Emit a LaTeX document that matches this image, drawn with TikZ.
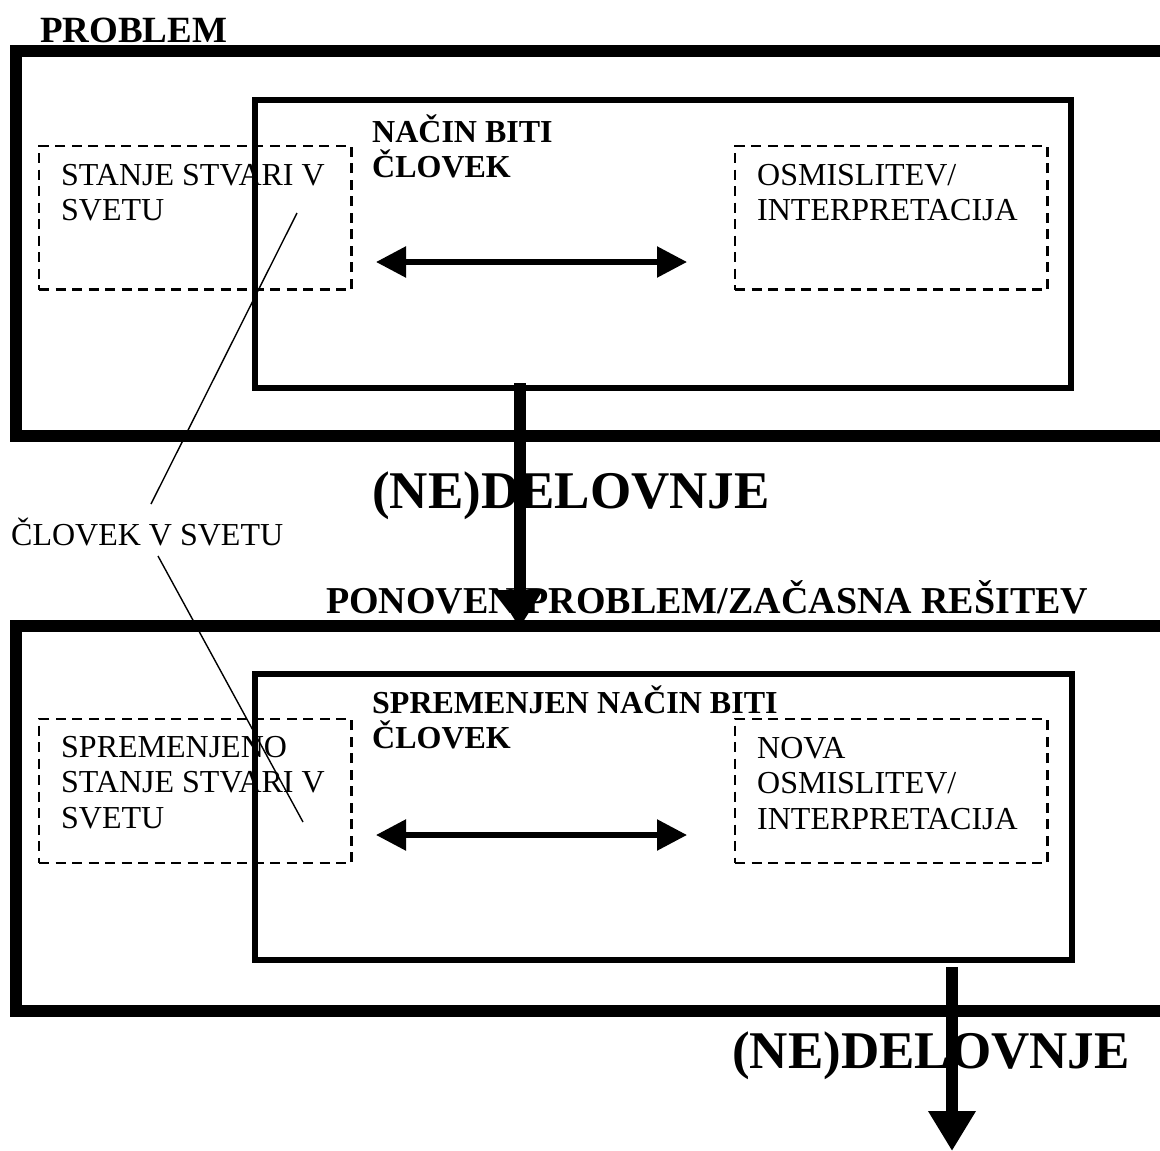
\documentclass[tikz,border=0pt]{standalone}
\usepackage{fontspec}
\setmainfont{Liberation Serif}
\usetikzlibrary{arrows.meta}
\begin{document}
\begin{tikzpicture}[x=1pt,y=-1pt,
  frame/.style={draw, line width=12pt, inner sep=0pt, outer sep=0pt},
  innerbox/.style={draw, line width=6pt, inner sep=0pt, outer sep=0pt},
  dbox/.style={draw, line width=2.5pt, dash pattern=on 10pt off 6.5pt, inner sep=0pt, outer sep=0pt},
  txt/.style={anchor=base west, inner sep=0pt, align=left, font=\fontsize{32}{35.5}\selectfont},
  btxt/.style={anchor=base west, inner sep=0pt, align=left, font=\fontsize{32}{35}\selectfont\bfseries},
  headtxt/.style={anchor=base west, inner sep=0pt, font=\fontsize{38}{40}\selectfont\bfseries},
  bigtxt/.style={anchor=base west, inner sep=0pt, font=\fontsize{53}{55}\selectfont\bfseries},
  dbl/.style={line width=5.5pt, {Triangle[length=30pt,width=30pt]}-{Triangle[length=30pt,width=30pt]}},
  bigarrow/.style={line width=12pt, -{Triangle[length=38pt,width=44pt]}},
  thin/.style={line width=1.4pt}
]
\useasboundingbox (0,0) rectangle (1160,1151);
\clip (0,0) rectangle (1160,1151);

% upper part
\node[frame, minimum width=1164.5pt, minimum height=385.5pt] (outer1) at (597.75,243.25) {};
\node[innerbox, minimum width=816pt, minimum height=288pt] (inner1) at (663,244) {};
\node[dbox, minimum width=312.5pt, minimum height=143.5pt] (d1L) at (195.25,217.75) {};
\node[dbox, minimum width=312.5pt, minimum height=143.5pt] (d1R) at (891.25,217.75) {};

\node[headtxt, font=\fontsize{37}{40}\selectfont\bfseries] (tprob) at (40,42) {PROBLEM};
% multi-line nodes: base anchor = baseline of last line
\node[btxt] (tnacin) at (372,177) {NAČIN BITI\\ČLOVEK};
\node[txt] (tstanje) at (61,220.5) {STANJE STVARI V\\SVETU};
\node[txt] (tosm) at (757,220.5) {OSMISLITEV/\\INTERPRETACIJA};

\coordinate (h1a) at (376,262);
\coordinate (h1b) at (687,262);
\draw[dbl] (h1a) -- (h1b);

% lower part
\node[frame, minimum width=1164.5pt, minimum height=385pt] (outer2) at (597.75,818.5) {};
\node[innerbox, minimum width=817pt, minimum height=286pt] (inner2) at (663.5,817) {};
\node[dbox, minimum width=312.5pt, minimum height=144pt] (d2L) at (195.25,791) {};
\node[dbox, minimum width=312.5pt, minimum height=144pt] (d2R) at (891.25,791) {};

\node[headtxt] (tpon) at (326,613) {PONOVEN PROBLEM/ZAČASNA REŠITEV};
\node[btxt] (tspr) at (372,748) {SPREMENJEN NAČIN BITI\\ČLOVEK};
\node[txt] (tsprst) at (61,828) {SPREMENJENO\\STANJE STVARI V\\SVETU};
\node[txt] (tnova) at (757,829) {NOVA\\OSMISLITEV/\\INTERPRETACIJA};

\coordinate (h2a) at (376,835);
\coordinate (h2b) at (687,835);
\draw[dbl] (h2a) -- (h2b);

% action labels
\node[bigtxt] (tdel1) at (372,508) {(NE)DELOVNJE};
\node[bigtxt] (tdel2) at (732,1068) {(NE)DELOVNJE};

% big arrows
\coordinate (a1s) at (519.5,383);
\coordinate (a1e) at (519.5,628);
\draw[bigarrow] (a1s) -- (a1e);
\coordinate (a2s) at (952,967);
\coordinate (a2e) at (952,1151);
\draw[bigarrow, -{Triangle[length=40pt,width=45pt]}] (a2s) -- (a2e);

% human in the world
\node[txt] (tclovek) at (11,545) {ČLOVEK V SVETU};
\coordinate (l1a) at (297,213);
\coordinate (l1b) at (151,504);
\coordinate (l2a) at (158,556);
\coordinate (l2b) at (303,822);
\draw[thin] (l1a) -- (l1b);
\draw[thin] (l2a) -- (l2b);
\end{tikzpicture}
\end{document}
